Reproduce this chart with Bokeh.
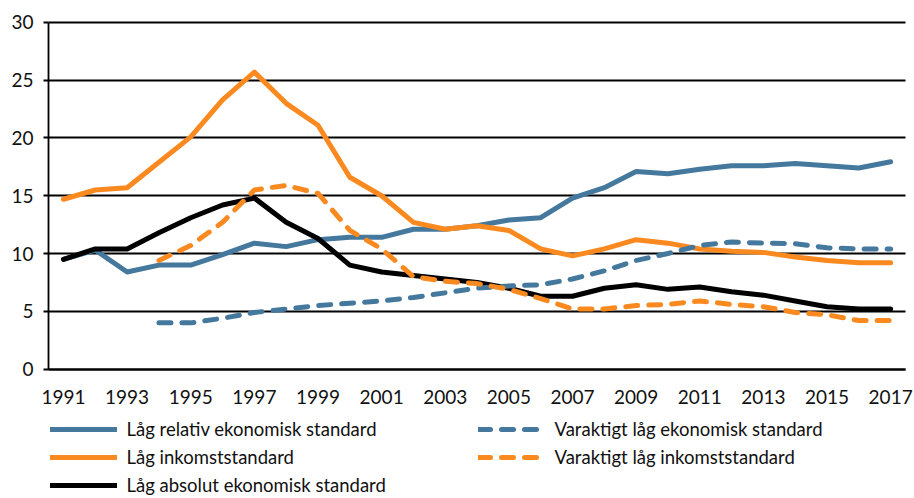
import numpy as np
from bokeh.plotting import figure
from bokeh.models import ColumnDataSource, FixedTicker, Legend, LegendItem, Range1d
from bokeh.embed import file_html
from bokeh.resources import INLINE

nan = np.nan

years = [1991, 1992, 1993, 1994, 1995, 1996, 1997, 1998, 1999, 2000, 2001, 2002, 2003, 2004,
         2005, 2006, 2007, 2008, 2009, 2010, 2011, 2012, 2013, 2014, 2015, 2016, 2017]

low_relative = [9.5, 10.3, 8.4, 9.0, 9.0, 9.9, 10.9, 10.6, 11.2, 11.4, 11.4, 12.1, 12.1, 12.4,
                12.9, 13.1, 14.8, 15.7, 17.1, 16.9, 17.3, 17.6, 17.6, 17.8, 17.6, 17.4, 17.95]
low_income = [14.7, 15.5, 15.7, 17.9, 20.1, 23.3, 25.7, 23.0, 21.1, 16.6, 15.0, 12.7, 12.1, 12.4,
              12.0, 10.4, 9.8, 10.4, 11.2, 10.9, 10.4, 10.2, 10.1, 9.7, 9.4, 9.2, 9.2]
low_absolute = [9.5, 10.4, 10.4, 11.8, 13.1, 14.2, 14.8, 12.7, 11.3, 9.0, 8.4, 8.1, 7.8, 7.5,
                7.0, 6.3, 6.3, 7.0, 7.3, 6.9, 7.1, 6.7, 6.4, 5.9, 5.4, 5.2, 5.2]
persistent_low_economic = [nan, nan, nan, 4.0, 4.0, 4.4, 4.9, 5.2, 5.5, 5.7, 5.9, 6.2, 6.6, 7.0,
                           7.2, 7.3, 7.8, 8.5, 9.4, 10.0, 10.7, 11.0, 10.9, 10.85, 10.5, 10.4, 10.4]
persistent_low_income = [nan, nan, nan, 9.4, 10.7, 12.7, 15.5, 15.9, 15.2, 12.0, 10.4, 8.0, 7.6, 7.4,
                         6.9, 6.1, 5.2, 5.2, 5.5, 5.6, 5.9, 5.6, 5.4, 4.9, 4.7, 4.2, 4.2]

x_tick_years = [1991, 1993, 1995, 1997, 1999, 2001, 2003, 2005, 2007, 2009, 2011, 2013, 2015, 2017]
x_tick_labels = ["1991", "1993", "1995", "1997", "1999", "2001", "2003", "2005", "2007", "2009",
                 "2011", "2013", "2015", "2017"]
y_ticks = [0, 5, 10, 15, 20, 25, 30]

labels = {
    "rel": "Låg relativ ekonomisk standard",
    "pe": "Varaktigt låg ekonomisk standard",
    "inc": "Låg inkomststandard",
    "pi": "Varaktigt låg inkomststandard",
    "abs": "Låg absolut ekonomisk standard",
}

BLUE = "#44789d"
ORANGE = "#fa8a20"
BLACK = "#000000"
FONT = "Lato"

# plot area (in data units) inside a frame that covers the whole page
AREA_X = (1990.53, 2017.47)
AREA_Y = (0, 30)

src = ColumnDataSource(dict(x=years, rel=low_relative, inc=low_income, abs=low_absolute,
                            pe=persistent_low_economic, pi=persistent_low_income))

p = figure(width=914, height=498, output_backend="svg", toolbar_location=None,
           x_range=Range1d(1989.02, 2017.75), y_range=Range1d(-11.2, 31.9),
           min_border_left=0, min_border_top=0, min_border_bottom=0, min_border_right=0)
p.outline_line_color = None
p.background_fill_color = "white"
p.border_fill_color = "white"

lw = 5
dash = "12 11"
common_line = dict(source=src, line_width=lw, line_join="round", line_cap="round")
r_rel = p.line("x", "rel", line_color=BLUE, **common_line)
r_inc = p.line("x", "inc", line_color=ORANGE, **common_line)
r_abs = p.line("x", "abs", line_color=BLACK, **common_line)
r_pe = p.line("x", "pe", line_color=BLUE, line_dash=dash, **common_line)
r_pi = p.line("x", "pi", line_color=ORANGE, line_dash=dash, **common_line)

# x axis drawn at y = 0
p.xaxis.fixed_location = AREA_Y[0]
p.xaxis.bounds = AREA_X
p.xaxis.ticker = FixedTicker(ticks=x_tick_years)
p.xaxis.major_label_overrides = {y: l for y, l in zip(x_tick_years, x_tick_labels)}
p.xaxis.major_tick_out = 0
p.xaxis.major_tick_in = 0
p.xaxis.minor_tick_out = 0
p.xaxis.minor_tick_in = 0
p.xaxis.axis_line_color = "black"
p.xaxis.axis_line_width = 1.8
p.xaxis.major_label_standoff = 21

# y axis drawn at the left edge of the plot area
p.yaxis.fixed_location = AREA_X[0]
p.yaxis.ticker = FixedTicker(ticks=y_ticks)
p.yaxis.bounds = AREA_Y
p.yaxis.major_tick_out = 5
p.yaxis.major_tick_in = 0
p.yaxis.minor_tick_out = 0
p.yaxis.minor_tick_in = 0
p.yaxis.major_tick_line_width = 1.8
p.yaxis.axis_line_width = 1.8
p.yaxis.major_label_standoff = 10

for ax in (p.xaxis, p.yaxis):
    ax.major_label_text_font = FONT
    ax.major_label_text_font_size = "19px"
    ax.major_label_text_color = "#111111"

p.xgrid.grid_line_color = None
p.ygrid.grid_line_color = "black"
p.ygrid.grid_line_width = 1.8
p.ygrid.cross_bounds = AREA_X

legend = Legend(items=[LegendItem(label=labels["rel"], renderers=[r_rel]),
                       LegendItem(label=labels["pe"], renderers=[r_pe]),
                       LegendItem(label=labels["inc"], renderers=[r_inc]),
                       LegendItem(label=labels["pi"], renderers=[r_pi]),
                       LegendItem(label=labels["abs"], renderers=[r_abs])],
                orientation="horizontal", ncols=2,
                location=(49.5, 2), border_line_alpha=0, background_fill_alpha=0,
                padding=0, margin=0, spacing=6, glyph_width=67, glyph_height=20,
                label_height=20, label_width=345, label_standoff=10,
                label_text_font=FONT, label_text_font_size="18.5px", label_text_color="#111111")
p.add_layout(legend, "center")

open("out.html", "w").write(file_html(p, INLINE))
